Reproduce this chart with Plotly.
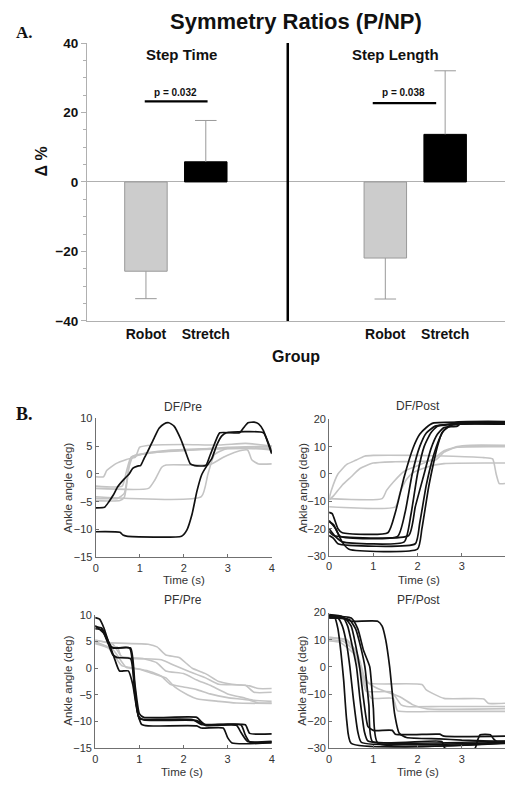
import plotly.graph_objects as go

W, H = 508, 788

# ---------------- Panel A data ----------------
bar_labels = ["Robot", "Stretch", "Robot", "Stretch"]
bar_pos = [1, 2, 5, 6]
bar_vals = [-25.7, 5.8, -21.9, 13.7]
bar_err = [7.9, 11.9, 11.8, 18.3]
bar_err_dir = [-1, 1, -1, 1]
bar_fill = ["#cccccc", "#000000", "#cccccc", "#000000"]
bar_edge = ["#9a9a9a", "#000000", "#9a9a9a", "#000000"]
group_titles = ["Step Time", "Step Length"]
group_title_x = [1.6, 5.17]
p_texts = ["p = 0.032", "p = 0.038"]
p_text_x = [1.49, 5.3]
p_x0 = [0.98, 4.79]
p_x1 = [2.03, 5.85]
p_y = [23.2, 22.7]
divider_x = 3.37
a_yticks = [-40, -20, 0, 20, 40]

# ---------------- Panel B data (time s, ankle angle deg) ----------------
DF_PRE_BLACK = [
    ([0, 0.2, 0.3, 0.4, 0.5, 0.65, 0.76, 0.84, 0.95, 1.02, 1.1, 1.18, 1.33, 1.44, 1.55, 1.66, 1.78, 1.93, 2.04, 2.15, 2.25, 2.5, 2.6, 2.75, 2.82, 3.27, 3.35, 3.46, 3.6, 3.7, 3.81, 3.92, 4.0],
     [-6.1, -6.0, -5.0, -3.8, -2.3, -0.9, 0.0, 1.0, 1.4, 1.5, 2.8, 4.0, 6.5, 8.2, 9.0, 9.2, 8.6, 6.3, 4.0, 1.8, 1.5, 1.5, 3.4, 6.4, 7.4, 7.4, 8.2, 9.2, 9.3, 9.0, 7.8, 5.4, 3.6]),
    ([0, 0.55, 0.62, 0.7, 1.95, 2.07, 2.19, 2.3, 2.41, 2.52, 2.64, 2.75, 2.86, 2.97, 3.81, 3.92, 4.0],
     [-10.4, -10.5, -11.0, -11.2, -11.2, -10.1, -7.2, -3.1, -0.1, 1.4, 2.8, 5.2, 6.8, 7.4, 7.4, 5.6, 3.8]),
]
DF_PRE_GRAY = [
    ([0, 0.18, 0.25, 0.45, 0.7, 0.9, 1.0, 1.3, 2.0, 2.8, 3.4, 3.7, 4.0],
     [-0.5, -0.5, 0.6, 1.8, 2.6, 3.0, 4.8, 5.2, 5.3, 5.2, 5.5, 5.3, 5.0]),
    ([0, 0.6, 0.7, 0.8, 1.0, 1.6, 2.4, 3.0, 4.0],
     [-2.2, -2.2, 0.5, 3.0, 3.5, 4.2, 4.5, 4.6, 4.6]),
    ([0, 1.2, 1.35, 1.5, 1.6, 2.6, 2.9, 3.2, 3.45, 3.55, 3.7, 4.0],
     [-2.6, -2.6, -1.0, 1.2, 1.6, 1.7, 3.0, 4.0, 4.3, 2.5, 1.8, 1.8]),
    ([0, 2.4, 2.55, 2.7, 3.0, 4.0],
     [-4.1, -4.1, 0.0, 3.5, 4.6, 4.6]),
    ([0, 0.5, 0.65, 0.75, 0.85, 1.1, 1.5, 2.5, 3.5, 4.0],
     [-4.4, -4.4, -3.5, 1.0, 3.2, 3.6, 4.0, 4.4, 4.6, 4.3]),
    ([0, 0.55, 0.65, 0.72, 0.8, 1.2, 2.0, 3.0, 4.0],
     [-4.8, -4.8, -4.2, -1.0, 2.8, 3.8, 4.2, 4.8, 5.0]),
]
DF_POST_BLACK = [
    ([0, 0.07, 0.2, 0.3, 1.33, 1.5, 1.7, 1.9, 2.05, 2.2, 2.35, 3.98],
     [-14, -14.5, -20, -21.5, -21.5, -14, -1, 9.5, 14.5, 17, 18.6, 18.8]),
    ([0, 0.1, 0.25, 1.55, 1.72, 1.88, 2.05, 2.2, 2.4, 2.6, 2.8, 3.98],
     [-17.5, -18.5, -22.8, -22.8, -14, 0, 10, 15, 17.5, 18, 18.3, 18.5]),
    ([0, 0.15, 0.3, 1.7, 1.85, 2.0, 2.15, 2.3, 2.45, 2.7, 2.9, 3.98],
     [-20, -23, -24.8, -24.8, -15, 0, 10, 15, 17.5, 18, 19, 19.2]),
    ([0, 0.1, 1.8, 1.95, 2.15, 2.3, 2.45, 2.6, 2.9, 3.0, 3.98],
     [-21, -22.5, -22.5, -12, 0, 9, 14.5, 17, 17.5, 18.8, 19]),
    ([0, 0.15, 0.3, 0.45, 2.0, 2.1, 2.25, 2.35, 2.45, 2.55, 2.7, 3.0, 3.98],
     [-17, -20, -25, -27.5, -27.5, -20, -5, 3, 10, 15, 17.5, 18.5, 18.5]),
    ([0, 0.1, 0.2, 1.95, 2.05, 2.2, 2.35, 2.5, 2.6, 2.8, 3.98],
     [-22.5, -23.5, -25.5, -25.5, -18, -4, 6, 13, 16, 18, 18.2]),
]
DF_POST_GRAY = [
    ([0, 0.05, 0.2, 0.4, 0.6, 0.8, 1.0, 2.0, 2.8, 3.5, 3.7, 3.78, 3.85, 3.98],
     [-9, -6, 0, 3.5, 5, 6.5, 6.8, 6.8, 6.5, 6.0, 5.5, 0, -3.5, -3.5]),
    ([0, 0.1, 0.3, 0.5, 0.7, 1.0, 1.5, 2.4, 2.6, 2.9, 3.2, 3.98],
     [-9.5, -8, -4, -1, 2, 4.0, 4.5, 5, 8, 10, 10.5, 10.5]),
    ([0, 1.2, 1.3, 1.45, 1.7, 2.0, 2.4, 2.6, 2.9, 3.98],
     [-9, -9, -6, -3, 1, 3, 6, 8.5, 9.8, 10]),
    ([0, 1.5, 1.6, 1.75, 1.9, 2.2, 2.6, 3.98],
     [-12, -12, -7, -2, 0.5, 2.5, 3.8, 4]),
]
PF_PRE_BLACK = [
    ([0, 0.1, 0.2, 0.3, 0.4, 0.8, 0.9, 1.0, 1.1, 2.3, 2.4, 2.5, 3.3, 3.4, 3.5, 4.0],
     [9.5, 9.2, 7.5, 5, 3.8, 3.8, -3, -8.5, -9.2, -9.2, -10, -10.6, -10.6, -12.5, -13.8, -13.8]),
    ([0, 0.15, 0.3, 0.45, 0.55, 0.75, 0.85, 0.95, 1.05, 1.2, 2.3, 2.4, 2.9, 3.0, 3.1, 4.0],
     [7.8, 7.5, 5, 1.5, -0.5, -0.5, -3, -8, -10.5, -10.8, -10.8, -11.2, -11.2, -13, -14, -14]),
    ([0, 0.15, 0.3, 0.4, 0.5, 0.8, 0.9, 1.0, 1.1, 2.2, 2.4, 2.9, 3.4, 3.5, 4.0],
     [7.4, 7.2, 4.5, 2.5, 2.0, 1.8, -5, -9.5, -9.6, -9.6, -10.5, -10.5, -10.6, -12.2, -12.3]),
    ([0, 0.2, 0.35, 0.45, 0.78, 0.88, 0.98, 1.1, 2.3, 2.5, 3.2, 3.3, 3.45, 4.0],
     [8, 6.5, 4, 3.8, 3.8, -2, -9, -9.7, -9.8, -10.7, -10.7, -12, -13.7, -13.7]),
]
PF_PRE_GRAY = [
    ([0, 0.3, 1.2, 1.4, 1.6, 1.9, 2.2, 2.5, 2.8, 3.1, 3.5, 3.7, 4.0],
     [5.3, 4.8, 4.5, 4.0, 2.5, 2.0, 0, -1, -2.5, -3.0, -3.3, -3.8, -3.8]),
    ([0, 0.3, 0.5, 0.6, 1.0, 1.5, 1.8, 2.1, 2.5, 2.8, 3.4, 3.6, 4.0],
     [5.0, 4.0, 4.0, 2.0, 1.8, 1.6, 0.5, -0.5, -1.8, -3, -3.2, -4.5, -4.5]),
    ([0, 0.3, 0.6, 0.9, 1.2, 1.5, 1.7, 2.0, 2.3, 2.6, 3.0, 3.5, 3.7, 4.0],
     [4.6, 3.8, 0.5, 0, -0.5, -1.5, -3, -3.5, -4, -4.8, -5.5, -6, -6.5, -6.5]),
    ([0, 0.4, 0.6, 1.1, 1.4, 1.6, 2.0, 2.3, 2.6, 3.0, 3.4, 3.6, 4.0],
     [5.2, 4.5, 2.2, 1.8, 1.0, -0.5, -1.0, -2.2, -3.2, -4.8, -5.6, -6.0, -6.2]),
    ([0, 0.4, 0.7, 1.0, 1.3, 1.6, 1.8, 2.1, 2.3, 2.8, 3.2, 4.0],
     [4.8, 3.5, 0.2, -0.2, -1, -1.8, -3.5, -5, -5.7, -6.2, -6.5, -6.6]),
]
PF_POST_BLACK = [
    ([0, 0.12, 0.2, 0.27, 0.33, 0.4, 0.5, 3.98],
     [19, 18.5, 14, 5, -5, -20, -28.2, -28.2]),
    ([0, 0.2, 0.3, 0.4, 0.47, 0.55, 0.65, 0.73, 3.98],
     [18.5, 18, 15, 8, 0, -12, -24, -27.8, -27.8]),
    ([0, 0.3, 0.42, 0.52, 0.62, 0.7, 0.8, 0.88, 3.98],
     [19.2, 18.5, 15, 8, 0, -12, -24, -27.3, -27.3]),
    ([0, 0.35, 0.5, 0.6, 0.69, 0.78, 0.88, 1.0, 1.43, 1.5, 2.5, 2.6, 3.98],
     [18.5, 18, 15, 8, 0, -12, -22, -23.4, -23.4, -24.8, -24.8, -25.5, -25.5]),
    ([0, 0.45, 0.6, 0.72, 0.81, 0.9, 0.98, 2.55, 2.62, 3.3, 3.36, 3.42, 3.65, 3.72, 3.8, 3.98],
     [18, 17.5, 14, 7, 0, -14, -27.5, -27.5, -30, -30, -27, -25, -25, -26.5, -27.5, -27.5]),
    ([0, 0.5, 0.65, 0.78, 0.92, 1.0, 1.1, 3.98],
     [18.8, 18, 14, 6, 0, -15, -28, -28]),
    ([0, 0.15, 0.4, 0.5, 1.1, 1.2, 1.28, 1.37, 1.48, 1.59, 1.75, 2.5, 3.0, 3.98],
     [18, 18, 17.5, 16.8, 16.8, 15, 10, 0, -17, -24.5, -26, -26.5, -27, -27.5]),
]
PF_POST_GRAY = [
    ([0, 0.25, 0.4, 0.5, 0.6, 0.7, 0.8, 0.88, 2.1, 2.2, 2.6, 3.5, 3.6, 3.98],
     [10.5, 10.5, 9.5, 8, 6, 2, -4, -6, -6.5, -8.5, -11.6, -11.8, -13.4, -13.4]),
    ([0, 0.2, 0.4, 0.55, 0.7, 0.78, 0.84, 1.4, 1.5, 1.63, 1.75, 2.5, 3.98],
     [11, 10.5, 10, 7, 1, -6, -9, -9.2, -11, -14, -14.6, -14.6, -14.6]),
    ([0, 0.3, 0.5, 0.6, 0.75, 0.85, 0.95, 1.45, 1.5, 1.55, 2.5, 3.98],
     [10, 9.5, 7, 5, -2, -8, -11.5, -11.6, -14, -16.2, -16.4, -16.4]),
    ([0, 0.25, 0.45, 0.6, 0.7, 0.9, 1.1, 1.6, 1.9, 2.2, 3.98],
     [9.5, 9, 6.5, 4, -1, -6, -8, -11, -14, -15.4, -15.4]),
]

panel_titles = ["DF/Pre", "DF/Post", "PF/Pre", "PF/Post"]


def px(x):
    return x / W


def py(y):
    return 1 - y / H


SANS = "Liberation Sans"
fig = go.Figure()

# ---------------- Panel A ----------------
fig.add_trace(go.Bar(
    x=bar_pos, y=bar_vals, width=0.71,
    marker=dict(color=bar_fill, line=dict(color=bar_edge, width=1)),
    xaxis="x", yaxis="y", showlegend=False, hoverinfo="skip"))

ex, ey = [], []
for p, v, e, d in zip(bar_pos, bar_vals, bar_err, bar_err_dir):
    end = v + d * e
    ex += [p, p, None, p - 0.18, p + 0.18, None]
    ey += [v, end, None, end, end, None]
fig.add_trace(go.Scatter(x=ex, y=ey, mode="lines", line=dict(color="#9a9a9a", width=1),
                         xaxis="x", yaxis="y", showlegend=False, hoverinfo="skip"))

sx, sy = [], []
for a, b, y in zip(p_x0, p_x1, p_y):
    sx += [a, b, None]
    sy += [y, y, None]
fig.add_trace(go.Scatter(x=sx, y=sy, mode="lines", line=dict(color="#000", width=2.2),
                         xaxis="x", yaxis="y", showlegend=False, hoverinfo="skip"))

fig.add_shape(type="line", x0=divider_x, x1=divider_x, y0=-40, y1=40, xref="x", yref="y",
              line=dict(color="#000", width=2.5))


def ann(text, x, y, size, color="#111", bold=False, family=SANS, angle=0, xref="paper", yref="paper"):
    f = dict(family=family, size=size, color=color)
    if bold:
        f["weight"] = "bold"
    if xref == "paper":
        x = px(x)
    if yref == "paper":
        y = py(y)
    return dict(text=text, x=x, y=y, xref=xref, yref=yref, xanchor="center", yanchor="middle",
                showarrow=False, textangle=angle, font=f)


annotations = []
for t, x in zip(group_titles, group_title_x):
    annotations.append(ann(t, x, 36.8, 15, bold=True, xref="x", yref="y"))
for t, x in zip(p_texts, p_text_x):
    annotations.append(ann(t, x, 25.8, 10, bold=True, xref="x", yref="y"))

annotations += [
    ann("Symmetry Ratios (P/NP)", 297, 15, 22, bold=True),
    ann("A.", 22, 26, 17, bold=True, family="Liberation Serif"),
    ann("B.", 22, 415, 18, bold=True, family="Liberation Serif"),
    ann("Group", 297, 356, 16, bold=True),
    ann("Δ %", 39, 158, 16, bold=True, angle=-90),
]

# ---------------- Panel B ----------------
panels = [
    (DF_PRE_BLACK, DF_PRE_GRAY, 2, (93.8, 272), (419.3, 561.0), [0, 4], [-15, 10], 5),
    (DF_POST_BLACK, DF_POST_GRAY, 3, (330, 508), (420.3, 559.7), [0, 3.98], [-30, 20], 10),
    (PF_PRE_BLACK, PF_PRE_GRAY, 4, (93.3, 272), (619.7, 755.7), [0, 4], [-15, 10], 5),
    (PF_POST_BLACK, PF_POST_GRAY, 5, (330, 508), (617.3, 755.7), [0, 3.98], [-30, 20], 10),
]
title_pos = [(182, 408), (420, 407), (182, 604), (420, 604)]
xlab_pos = [(183, 584), (421, 584), (181, 779.5), (420, 779.5)]
ylab_pos = [(65, 490), (303, 490), (65.5, 687), (302.5, 687)]

axis_common = dict(showline=True, linecolor="#707070", linewidth=1, ticks="inside",
                   ticklen=3, tickcolor="#707070", showgrid=False, zeroline=False,
                   tickfont=dict(family=SANS, size=11, color="#333"))

layout_axes = {}
for (blk, gry, n, (xa, xb), (ya, yb), xr, yr, dy), tp, xl, yl, ttl in zip(
        panels, title_pos, xlab_pos, ylab_pos, panel_titles):
    xn, yn = f"x{n}", f"y{n}"
    for curves, col, w in ((gry, "#c4c4c4", 1.6), (blk, "#111111", 1.7)):
        for t, v in curves:
            fig.add_trace(go.Scatter(x=t, y=v, mode="lines",
                                     line=dict(color=col, width=w, shape="spline", smoothing=0.5),
                                     xaxis=xn, yaxis=yn, showlegend=False, hoverinfo="skip"))
    layout_axes[f"xaxis{n}"] = dict(domain=[px(xa), min(1, px(xb))], range=xr, anchor=yn,
                                    dtick=1, tick0=0, **axis_common)
    layout_axes[f"yaxis{n}"] = dict(domain=[py(yb), py(ya)], range=yr, anchor=xn,
                                    dtick=dy, tick0=0, **axis_common)
    annotations.append(ann(ttl, tp[0], tp[1], 12, color="#333"))
    annotations.append(ann("Time (s)", xl[0], xl[1], 11.5, color="#333"))
    annotations.append(ann("Ankle angle (deg)", yl[0], yl[1], 11.5, color="#333", angle=-90))

fig.update_layout(
    width=W, height=H, margin=dict(l=0, r=0, t=0, b=0),
    paper_bgcolor="white", plot_bgcolor="white", showlegend=False,
    xaxis=dict(domain=[px(85), 1], range=[0.015, 7.0], tickvals=bar_pos, ticktext=bar_labels,
               showline=True, linecolor="#b0b0b0", linewidth=1, ticks="", showgrid=False,
               zeroline=False, anchor="y",
               tickfont=dict(family=SANS, size=14, color="#111", weight="bold")),
    yaxis=dict(domain=[py(320), py(36.7)], range=[-40, 40], tickvals=a_yticks,
               showline=True, linecolor="#b0b0b0", linewidth=1, ticks="outside", ticklen=5,
               tickcolor="#b0b0b0", showgrid=False, zeroline=True, zerolinecolor="#b0b0b0",
               zerolinewidth=1, anchor="x",
               minor=dict(dtick=5, ticks="outside", ticklen=3, tickcolor="#b0b0b0", showgrid=False),
               tickfont=dict(family=SANS, size=13.5, color="#111", weight="bold")),
    annotations=annotations,
    **layout_axes,
)

fig.write_html("out.html", config={"displayModeBar": False},
               post_script="document.body.style.margin='0';document.body.style.padding='0';"
                           "document.documentElement.style.overflow='hidden';")
